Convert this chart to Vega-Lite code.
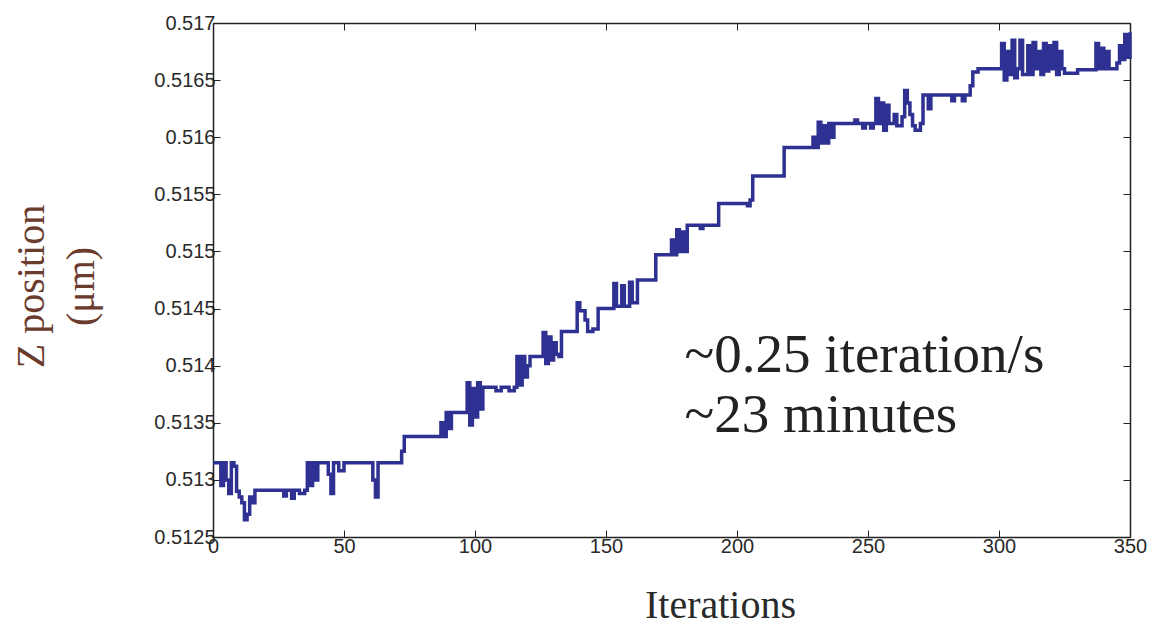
{
  "$schema": "https://vega.github.io/schema/vega-lite/v6.json",
  "width": 917,
  "height": 514,
  "autosize": "none",
  "padding": {"left": 213, "top": 23, "right": 21, "bottom": 94},
  "background": "white",
  "config": {"view": {"stroke": null}},
  "datasets": {
    "z": [
      {"it": 0, "z": 0.51315}, {"it": 3, "z": 0.51295}, {"it": 4, "z": 0.51315}, {"it": 5, "z": 0.513}, {"it": 6, "z": 0.51288},
      {"it": 7, "z": 0.51315}, {"it": 8, "z": 0.51312}, {"it": 9, "z": 0.5129}, {"it": 10, "z": 0.51285}, {"it": 11, "z": 0.5128},
      {"it": 12, "z": 0.51265}, {"it": 13, "z": 0.5127}, {"it": 14, "z": 0.51285}, {"it": 15, "z": 0.5128}, {"it": 16, "z": 0.51291},
      {"it": 27, "z": 0.51286}, {"it": 28, "z": 0.51291}, {"it": 30, "z": 0.51284}, {"it": 31, "z": 0.51291}, {"it": 33, "z": 0.51288},
      {"it": 35, "z": 0.51291}, {"it": 36, "z": 0.51315}, {"it": 37, "z": 0.51295}, {"it": 38, "z": 0.51315}, {"it": 39, "z": 0.513},
      {"it": 40, "z": 0.51315}, {"it": 44, "z": 0.51305}, {"it": 45, "z": 0.51288}, {"it": 46, "z": 0.51315}, {"it": 48, "z": 0.51308},
      {"it": 50, "z": 0.51315}, {"it": 61, "z": 0.513}, {"it": 62, "z": 0.51285}, {"it": 63, "z": 0.51315}, {"it": 72, "z": 0.51325},
      {"it": 73, "z": 0.51338}, {"it": 87, "z": 0.5135}, {"it": 88, "z": 0.51338}, {"it": 89, "z": 0.51359}, {"it": 90, "z": 0.51345},
      {"it": 91, "z": 0.51359}, {"it": 97, "z": 0.51385}, {"it": 98, "z": 0.51348}, {"it": 99, "z": 0.5138}, {"it": 100, "z": 0.51355},
      {"it": 101, "z": 0.51385}, {"it": 102, "z": 0.51362}, {"it": 103, "z": 0.51381}, {"it": 108, "z": 0.51378}, {"it": 110, "z": 0.51381},
      {"it": 113, "z": 0.51378}, {"it": 115, "z": 0.51381}, {"it": 116, "z": 0.51408}, {"it": 117, "z": 0.51383}, {"it": 118, "z": 0.51408},
      {"it": 119, "z": 0.5139}, {"it": 120, "z": 0.514}, {"it": 121, "z": 0.51408}, {"it": 126, "z": 0.51429}, {"it": 127, "z": 0.51402},
      {"it": 128, "z": 0.51425}, {"it": 129, "z": 0.51405}, {"it": 130, "z": 0.5142}, {"it": 131, "z": 0.5141}, {"it": 132, "z": 0.51408},
      {"it": 133, "z": 0.5143}, {"it": 139, "z": 0.51455}, {"it": 140, "z": 0.51448}, {"it": 142, "z": 0.5144}, {"it": 143, "z": 0.5143},
      {"it": 145, "z": 0.51432}, {"it": 147, "z": 0.5145}, {"it": 153, "z": 0.51472}, {"it": 154, "z": 0.51452}, {"it": 156, "z": 0.5147},
      {"it": 157, "z": 0.51452}, {"it": 159, "z": 0.51473}, {"it": 160, "z": 0.51455}, {"it": 162, "z": 0.51475}, {"it": 169, "z": 0.51497},
      {"it": 175, "z": 0.5151}, {"it": 176, "z": 0.51497}, {"it": 177, "z": 0.51519}, {"it": 178, "z": 0.515}, {"it": 179, "z": 0.51517},
      {"it": 180, "z": 0.515}, {"it": 181, "z": 0.51523}, {"it": 186, "z": 0.5152}, {"it": 187, "z": 0.51523}, {"it": 193, "z": 0.51542},
      {"it": 204, "z": 0.5154}, {"it": 205, "z": 0.51545}, {"it": 206, "z": 0.51566}, {"it": 218, "z": 0.51591}, {"it": 229, "z": 0.516},
      {"it": 230, "z": 0.51591}, {"it": 231, "z": 0.51613}, {"it": 232, "z": 0.51595}, {"it": 233, "z": 0.5161}, {"it": 234, "z": 0.51595},
      {"it": 235, "z": 0.51612}, {"it": 236, "z": 0.516}, {"it": 237, "z": 0.51612}, {"it": 245, "z": 0.51615}, {"it": 246, "z": 0.51612},
      {"it": 248, "z": 0.51608}, {"it": 249, "z": 0.51612}, {"it": 251, "z": 0.51608}, {"it": 252, "z": 0.51612},
      {"it": 253, "z": 0.51634}, {"it": 254, "z": 0.51612}, {"it": 255, "z": 0.5163}, {"it": 256, "z": 0.51606}, {"it": 257, "z": 0.51628},
      {"it": 258, "z": 0.51612}, {"it": 260, "z": 0.5162}, {"it": 261, "z": 0.5161}, {"it": 263, "z": 0.51618}, {"it": 264, "z": 0.51641},
      {"it": 265, "z": 0.5163}, {"it": 266, "z": 0.5162}, {"it": 267, "z": 0.5161}, {"it": 268, "z": 0.51606}, {"it": 270, "z": 0.51612},
      {"it": 271, "z": 0.51637}, {"it": 273, "z": 0.51625}, {"it": 274, "z": 0.51637}, {"it": 282, "z": 0.51632}, {"it": 283, "z": 0.51637},
      {"it": 286, "z": 0.51632}, {"it": 287, "z": 0.51637}, {"it": 289, "z": 0.51645}, {"it": 290, "z": 0.51657}, {"it": 292, "z": 0.5166},
      {"it": 301, "z": 0.51682}, {"it": 302, "z": 0.5165}, {"it": 303, "z": 0.51675}, {"it": 304, "z": 0.51655}, {"it": 305, "z": 0.51685},
      {"it": 306, "z": 0.51652}, {"it": 307, "z": 0.5166}, {"it": 308, "z": 0.51685}, {"it": 309, "z": 0.51655}, {"it": 311, "z": 0.5168},
      {"it": 312, "z": 0.51655}, {"it": 313, "z": 0.51683}, {"it": 314, "z": 0.5166}, {"it": 315, "z": 0.51675}, {"it": 316, "z": 0.51655},
      {"it": 317, "z": 0.51682}, {"it": 318, "z": 0.51658}, {"it": 319, "z": 0.5168}, {"it": 320, "z": 0.5166}, {"it": 321, "z": 0.51683},
      {"it": 322, "z": 0.51655}, {"it": 323, "z": 0.51675}, {"it": 324, "z": 0.5166}, {"it": 325, "z": 0.51656}, {"it": 330, "z": 0.51659},
      {"it": 337, "z": 0.51682}, {"it": 338, "z": 0.5166}, {"it": 339, "z": 0.51678}, {"it": 340, "z": 0.5166}, {"it": 341, "z": 0.51675},
      {"it": 342, "z": 0.5166}, {"it": 345, "z": 0.51665}, {"it": 346, "z": 0.5168}, {"it": 347, "z": 0.51668}, {"it": 348, "z": 0.5169},
      {"it": 349, "z": 0.5167}, {"it": 350, "z": 0.51692}
    ],
    "notes": [
      {"it": 180, "z": 0.513945, "label": "~0.25 iteration/s"},
      {"it": 180, "z": 0.513419, "label": "~23 minutes"}
    ]
  },
  "layer": [
    {
      "data": {"name": "z"},
      "mark": {"type": "line", "interpolate": "step-after", "color": "#2e3192", "strokeWidth": 3.5},
      "encoding": {
        "x": {
          "field": "it", "type": "quantitative",
          "scale": {"domain": [0, 350], "nice": false, "zero": false},
          "axis": {
            "orient": "bottom", "values": [0, 50, 100, 150, 200, 250, 300, 350],
            "grid": false, "tickSize": -7, "tickColor": "#222", "domainColor": "#222", "domainWidth": 1.5,
            "labelFont": "Liberation Sans", "labelFontSize": 20, "labelColor": "#2a2a2a", "labelPadding": 6,
            "labelFlush": false,
            "title": "Iterations", "titleFont": "Liberation Serif", "titleFontSize": 40, "titleFontWeight": "normal",
            "titleColor": "#2a2a2a", "titleX": 507, "titleY": 68, "titleBaseline": "middle", "titleAnchor": null
          }
        },
        "y": {
          "field": "z", "type": "quantitative",
          "scale": {"domain": [0.5125, 0.517], "nice": false, "zero": false},
          "axis": {
            "orient": "left", "values": [0.5125, 0.513, 0.5135, 0.514, 0.5145, 0.515, 0.5155, 0.516, 0.5165, 0.517],
            "format": "~g",
            "grid": false, "tickSize": -7, "tickColor": "#222", "domainColor": "#222", "domainWidth": 1.5,
            "labelFont": "Liberation Sans", "labelFontSize": 20, "labelColor": "#2a2a2a", "labelPadding": 5,
            "labelFlush": false,
            "title": ["Z position", "(μm)"], "titleFont": "Liberation Serif", "titleFontSize": 40, "titleFontWeight": "normal",
            "titleColor": "#6b3b2e", "titleLineHeight": 50, "titleAngle": -90, "titleX": -182, "titleY": 263,
            "titleBaseline": "middle", "titleAlign": "center"
          }
        }
      }
    },
    {
      "data": {"name": "notes"},
      "mark": {"type": "text", "align": "left", "baseline": "alphabetic", "font": "Liberation Serif", "fontSize": 55, "color": "#222"},
      "encoding": {
        "x": {
          "field": "it", "type": "quantitative",
          "scale": {"domain": [0, 350], "nice": false, "zero": false},
          "axis": {"orient": "top", "values": [0, 50, 100, 150, 200, 250, 300, 350], "labels": false, "title": null,
                   "grid": false, "tickSize": -7, "tickColor": "#222", "domainColor": "#222", "domainWidth": 1.5}
        },
        "y": {
          "field": "z", "type": "quantitative",
          "scale": {"domain": [0.5125, 0.517], "nice": false, "zero": false},
          "axis": {"orient": "right", "values": [0.5125, 0.513, 0.5135, 0.514, 0.5145, 0.515, 0.5155, 0.516, 0.5165, 0.517],
                   "labels": false, "title": null,
                   "grid": false, "tickSize": -7, "tickColor": "#222", "domainColor": "#222", "domainWidth": 1.5}
        },
        "text": {"field": "label"}
      }
    }
  ],
  "resolve": {"axis": {"x": "independent", "y": "independent"}}
}
